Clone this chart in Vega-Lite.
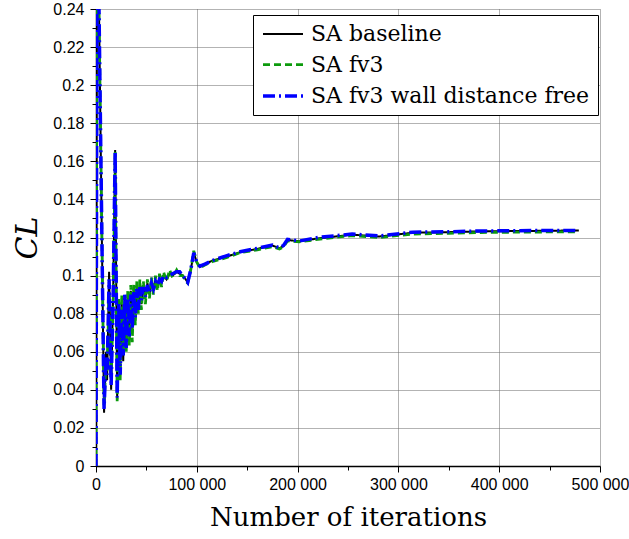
{
  "$schema": "https://vega.github.io/schema/vega-lite/v6.json",
  "width": 504,
  "height": 457,
  "autosize": "none",
  "padding": {"left": 96, "top": 9, "right": 29, "bottom": 73},
  "background": "white",
  "data": {"values": [
    {"iter": 0, "SA baseline": 0, "SA fv3": 0, "SA fv3 wall distance free": 0},
    {"iter": 1000, "SA baseline": 0.26, "SA fv3": 0.26, "SA fv3 wall distance free": 0.26},
    {"iter": 2500, "SA baseline": 0.26, "SA fv3": 0.26, "SA fv3 wall distance free": 0.26},
    {"iter": 8000, "SA baseline": 0.028, "SA fv3": 0.032, "SA fv3 wall distance free": 0.03},
    {"iter": 10000, "SA baseline": 0.06, "SA fv3": 0.055, "SA fv3 wall distance free": 0.058},
    {"iter": 11000, "SA baseline": 0.045, "SA fv3": 0.05, "SA fv3 wall distance free": 0.048},
    {"iter": 13000, "SA baseline": 0.102, "SA fv3": 0.092, "SA fv3 wall distance free": 0.098},
    {"iter": 15000, "SA baseline": 0.04, "SA fv3": 0.045, "SA fv3 wall distance free": 0.042},
    {"iter": 17000, "SA baseline": 0.09, "SA fv3": 0.085, "SA fv3 wall distance free": 0.088},
    {"iter": 19000, "SA baseline": 0.166, "SA fv3": 0.165, "SA fv3 wall distance free": 0.165},
    {"iter": 21000, "SA baseline": 0.035, "SA fv3": 0.034, "SA fv3 wall distance free": 0.036},
    {"iter": 22500, "SA baseline": 0.08, "SA fv3": 0.088, "SA fv3 wall distance free": 0.085},
    {"iter": 24000, "SA baseline": 0.05, "SA fv3": 0.045, "SA fv3 wall distance free": 0.048},
    {"iter": 25500, "SA baseline": 0.085, "SA fv3": 0.09, "SA fv3 wall distance free": 0.082},
    {"iter": 27000, "SA baseline": 0.055, "SA fv3": 0.06, "SA fv3 wall distance free": 0.058},
    {"iter": 28500, "SA baseline": 0.088, "SA fv3": 0.086, "SA fv3 wall distance free": 0.09},
    {"iter": 30000, "SA baseline": 0.065, "SA fv3": 0.06, "SA fv3 wall distance free": 0.062},
    {"iter": 31500, "SA baseline": 0.09, "SA fv3": 0.092, "SA fv3 wall distance free": 0.088},
    {"iter": 33000, "SA baseline": 0.07, "SA fv3": 0.063, "SA fv3 wall distance free": 0.068},
    {"iter": 34500, "SA baseline": 0.092, "SA fv3": 0.095, "SA fv3 wall distance free": 0.09},
    {"iter": 36000, "SA baseline": 0.07, "SA fv3": 0.065, "SA fv3 wall distance free": 0.072},
    {"iter": 37500, "SA baseline": 0.093, "SA fv3": 0.096, "SA fv3 wall distance free": 0.092},
    {"iter": 39000, "SA baseline": 0.08, "SA fv3": 0.074, "SA fv3 wall distance free": 0.078},
    {"iter": 40500, "SA baseline": 0.094, "SA fv3": 0.097, "SA fv3 wall distance free": 0.093},
    {"iter": 42000, "SA baseline": 0.083, "SA fv3": 0.08, "SA fv3 wall distance free": 0.082},
    {"iter": 43500, "SA baseline": 0.095, "SA fv3": 0.098, "SA fv3 wall distance free": 0.094},
    {"iter": 45000, "SA baseline": 0.085, "SA fv3": 0.082, "SA fv3 wall distance free": 0.087},
    {"iter": 47000, "SA baseline": 0.095, "SA fv3": 0.097, "SA fv3 wall distance free": 0.094},
    {"iter": 49000, "SA baseline": 0.088, "SA fv3": 0.085, "SA fv3 wall distance free": 0.089},
    {"iter": 51000, "SA baseline": 0.096, "SA fv3": 0.098, "SA fv3 wall distance free": 0.095},
    {"iter": 53000, "SA baseline": 0.09, "SA fv3": 0.088, "SA fv3 wall distance free": 0.091},
    {"iter": 55000, "SA baseline": 0.097, "SA fv3": 0.099, "SA fv3 wall distance free": 0.096},
    {"iter": 57000, "SA baseline": 0.092, "SA fv3": 0.09, "SA fv3 wall distance free": 0.093},
    {"iter": 59000, "SA baseline": 0.098, "SA fv3": 0.1, "SA fv3 wall distance free": 0.097},
    {"iter": 61000, "SA baseline": 0.094, "SA fv3": 0.092, "SA fv3 wall distance free": 0.095},
    {"iter": 63000, "SA baseline": 0.099, "SA fv3": 0.101, "SA fv3 wall distance free": 0.098},
    {"iter": 65000, "SA baseline": 0.096, "SA fv3": 0.094, "SA fv3 wall distance free": 0.097},
    {"iter": 67000, "SA baseline": 0.1, "SA fv3": 0.102, "SA fv3 wall distance free": 0.1},
    {"iter": 70000, "SA baseline": 0.098, "SA fv3": 0.097, "SA fv3 wall distance free": 0.099},
    {"iter": 73000, "SA baseline": 0.101, "SA fv3": 0.103, "SA fv3 wall distance free": 0.1},
    {"iter": 76000, "SA baseline": 0.1, "SA fv3": 0.099, "SA fv3 wall distance free": 0.101},
    {"iter": 80000, "SA baseline": 0.102, "SA fv3": 0.103, "SA fv3 wall distance free": 0.102},
    {"iter": 83000, "SA baseline": 0.101, "SA fv3": 0.1, "SA fv3 wall distance free": 0.102},
    {"iter": 86000, "SA baseline": 0.1, "SA fv3": 0.1, "SA fv3 wall distance free": 0.1},
    {"iter": 89000, "SA baseline": 0.098, "SA fv3": 0.097, "SA fv3 wall distance free": 0.098},
    {"iter": 91000, "SA baseline": 0.0963, "SA fv3": 0.096, "SA fv3 wall distance free": 0.0965},
    {"iter": 94000, "SA baseline": 0.103, "SA fv3": 0.103, "SA fv3 wall distance free": 0.103},
    {"iter": 97000, "SA baseline": 0.112, "SA fv3": 0.113, "SA fv3 wall distance free": 0.112},
    {"iter": 100000, "SA baseline": 0.107, "SA fv3": 0.107, "SA fv3 wall distance free": 0.107},
    {"iter": 103000, "SA baseline": 0.1045, "SA fv3": 0.104, "SA fv3 wall distance free": 0.105},
    {"iter": 108000, "SA baseline": 0.106, "SA fv3": 0.1055, "SA fv3 wall distance free": 0.106},
    {"iter": 116000, "SA baseline": 0.108, "SA fv3": 0.1075, "SA fv3 wall distance free": 0.108},
    {"iter": 130000, "SA baseline": 0.11, "SA fv3": 0.1095, "SA fv3 wall distance free": 0.1105},
    {"iter": 143000, "SA baseline": 0.1123, "SA fv3": 0.112, "SA fv3 wall distance free": 0.1125},
    {"iter": 160000, "SA baseline": 0.114, "SA fv3": 0.1135, "SA fv3 wall distance free": 0.1143},
    {"iter": 175000, "SA baseline": 0.1158, "SA fv3": 0.1152, "SA fv3 wall distance free": 0.116},
    {"iter": 182000, "SA baseline": 0.1144, "SA fv3": 0.114, "SA fv3 wall distance free": 0.1145},
    {"iter": 186000, "SA baseline": 0.1155, "SA fv3": 0.115, "SA fv3 wall distance free": 0.1158},
    {"iter": 190000, "SA baseline": 0.1187, "SA fv3": 0.1182, "SA fv3 wall distance free": 0.119},
    {"iter": 202000, "SA baseline": 0.118, "SA fv3": 0.1177, "SA fv3 wall distance free": 0.1182},
    {"iter": 220000, "SA baseline": 0.1195, "SA fv3": 0.119, "SA fv3 wall distance free": 0.12},
    {"iter": 254000, "SA baseline": 0.1215, "SA fv3": 0.121, "SA fv3 wall distance free": 0.1218},
    {"iter": 281000, "SA baseline": 0.1205, "SA fv3": 0.12, "SA fv3 wall distance free": 0.1208},
    {"iter": 314000, "SA baseline": 0.1225, "SA fv3": 0.1218, "SA fv3 wall distance free": 0.1228},
    {"iter": 350000, "SA baseline": 0.1228, "SA fv3": 0.1222, "SA fv3 wall distance free": 0.123},
    {"iter": 380000, "SA baseline": 0.1232, "SA fv3": 0.1226, "SA fv3 wall distance free": 0.1234},
    {"iter": 420000, "SA baseline": 0.1234, "SA fv3": 0.1228, "SA fv3 wall distance free": 0.1236},
    {"iter": 479000, "SA baseline": 0.1237, "SA fv3": 0.123, "SA fv3 wall distance free": 0.1237}
  ]},
  "transform": [
    {"fold": ["SA baseline", "SA fv3", "SA fv3 wall distance free"], "as": ["series", "CL"]}
  ],
  "mark": {"type": "line", "clip": true, "strokeCap": "butt"},
  "encoding": {
    "x": {
      "field": "iter", "type": "quantitative",
      "scale": {"domain": [0, 500000], "nice": false},
      "axis": {
        "title": "Number of iterations",
        "values": [0, 50000, 100000, 150000, 200000, 250000, 300000, 350000, 400000, 450000, 500000],
        "labelExpr": "datum.value % 100000 === 0 ? replace(format(datum.value, ','), ',', ' ') : ''",
        "labelFlush": false,
        "tickSize": {"condition": {"test": "datum.value % 100000 === 0", "value": 6}, "value": 4},
        "gridOpacity": {"condition": {"test": "datum.value % 100000 === 0", "value": 1}, "value": 0},
        "titleFont": "DejaVu Serif, Liberation Serif, serif", "titleFontSize": 26, "titleFontWeight": "normal",
        "titlePadding": 12, "labelPadding": 4
      }
    },
    "y": {
      "field": "CL", "type": "quantitative",
      "scale": {"domain": [0, 0.24], "nice": false},
      "axis": {
        "title": "CL",
        "values": [0, 0.01, 0.02, 0.03, 0.04, 0.05, 0.06, 0.07, 0.08, 0.09, 0.1, 0.11, 0.12, 0.13, 0.14, 0.15, 0.16, 0.17, 0.18, 0.19, 0.2, 0.21, 0.22, 0.23, 0.24],
        "labelExpr": "round(datum.value * 100) % 2 === 0 ? format(datum.value, '~g') : ''",
        "labelFlush": false,
        "tickSize": {"condition": {"test": "round(datum.value * 100) % 2 === 0", "value": 6}, "value": 4},
        "gridOpacity": {"condition": {"test": "round(datum.value * 100) % 2 === 0", "value": 1}, "value": 0},
        "titleFont": "DejaVu Serif, Liberation Serif, serif", "titleFontSize": 30, "titleFontStyle": "italic", "titleFontWeight": "normal",
        "titlePadding": 10, "labelPadding": 6
      }
    },
    "color": {
      "field": "series", "type": "nominal",
      "scale": {"domain": ["SA baseline", "SA fv3", "SA fv3 wall distance free"], "range": ["#000000", "#0c9a0c", "#0000ff"]},
      "legend": {
        "title": null, "orient": "none", "legendX": 157, "legendY": 6,
        "fillColor": "white", "strokeColor": "black", "padding": 8,
        "labelFont": "DejaVu Serif", "labelFontSize": 22, "labelColor": "black",
        "labelExpr": "datum.label + '\u00a0\u00a0'",
        "symbolType": "M-1,0H3", "symbolSize": 400, "symbolStrokeWidth": 2.5,
        "labelOffset": 26, "rowPadding": 8, "labelLimit": 400
      }
    },
    "strokeDash": {
      "field": "series", "type": "nominal",
      "scale": {"domain": ["SA baseline", "SA fv3", "SA fv3 wall distance free"], "range": [[1, 0], [7, 4], [12, 4, 2, 4]]}
    },
    "strokeWidth": {
      "field": "series", "type": "nominal",
      "scale": {"domain": ["SA baseline", "SA fv3", "SA fv3 wall distance free"], "range": [2, 3.5, 3]},
      "legend": null
    }
  },
  "config": {
    "view": {"stroke": null},
    "legend": {"labelFont": "DejaVu Serif", "labelFontSize": 22},
    "axis": {
      "domainColor": "black", "domainWidth": 1.5, "tickColor": "black", "tickWidth": 1,
      "gridColor": "#666666", "gridDash": [1, 1], "gridWidth": 1,
      "labelFont": "Liberation Sans", "labelFontSize": 16, "labelColor": "black",
      "titleColor": "black"
    }
  }
}
